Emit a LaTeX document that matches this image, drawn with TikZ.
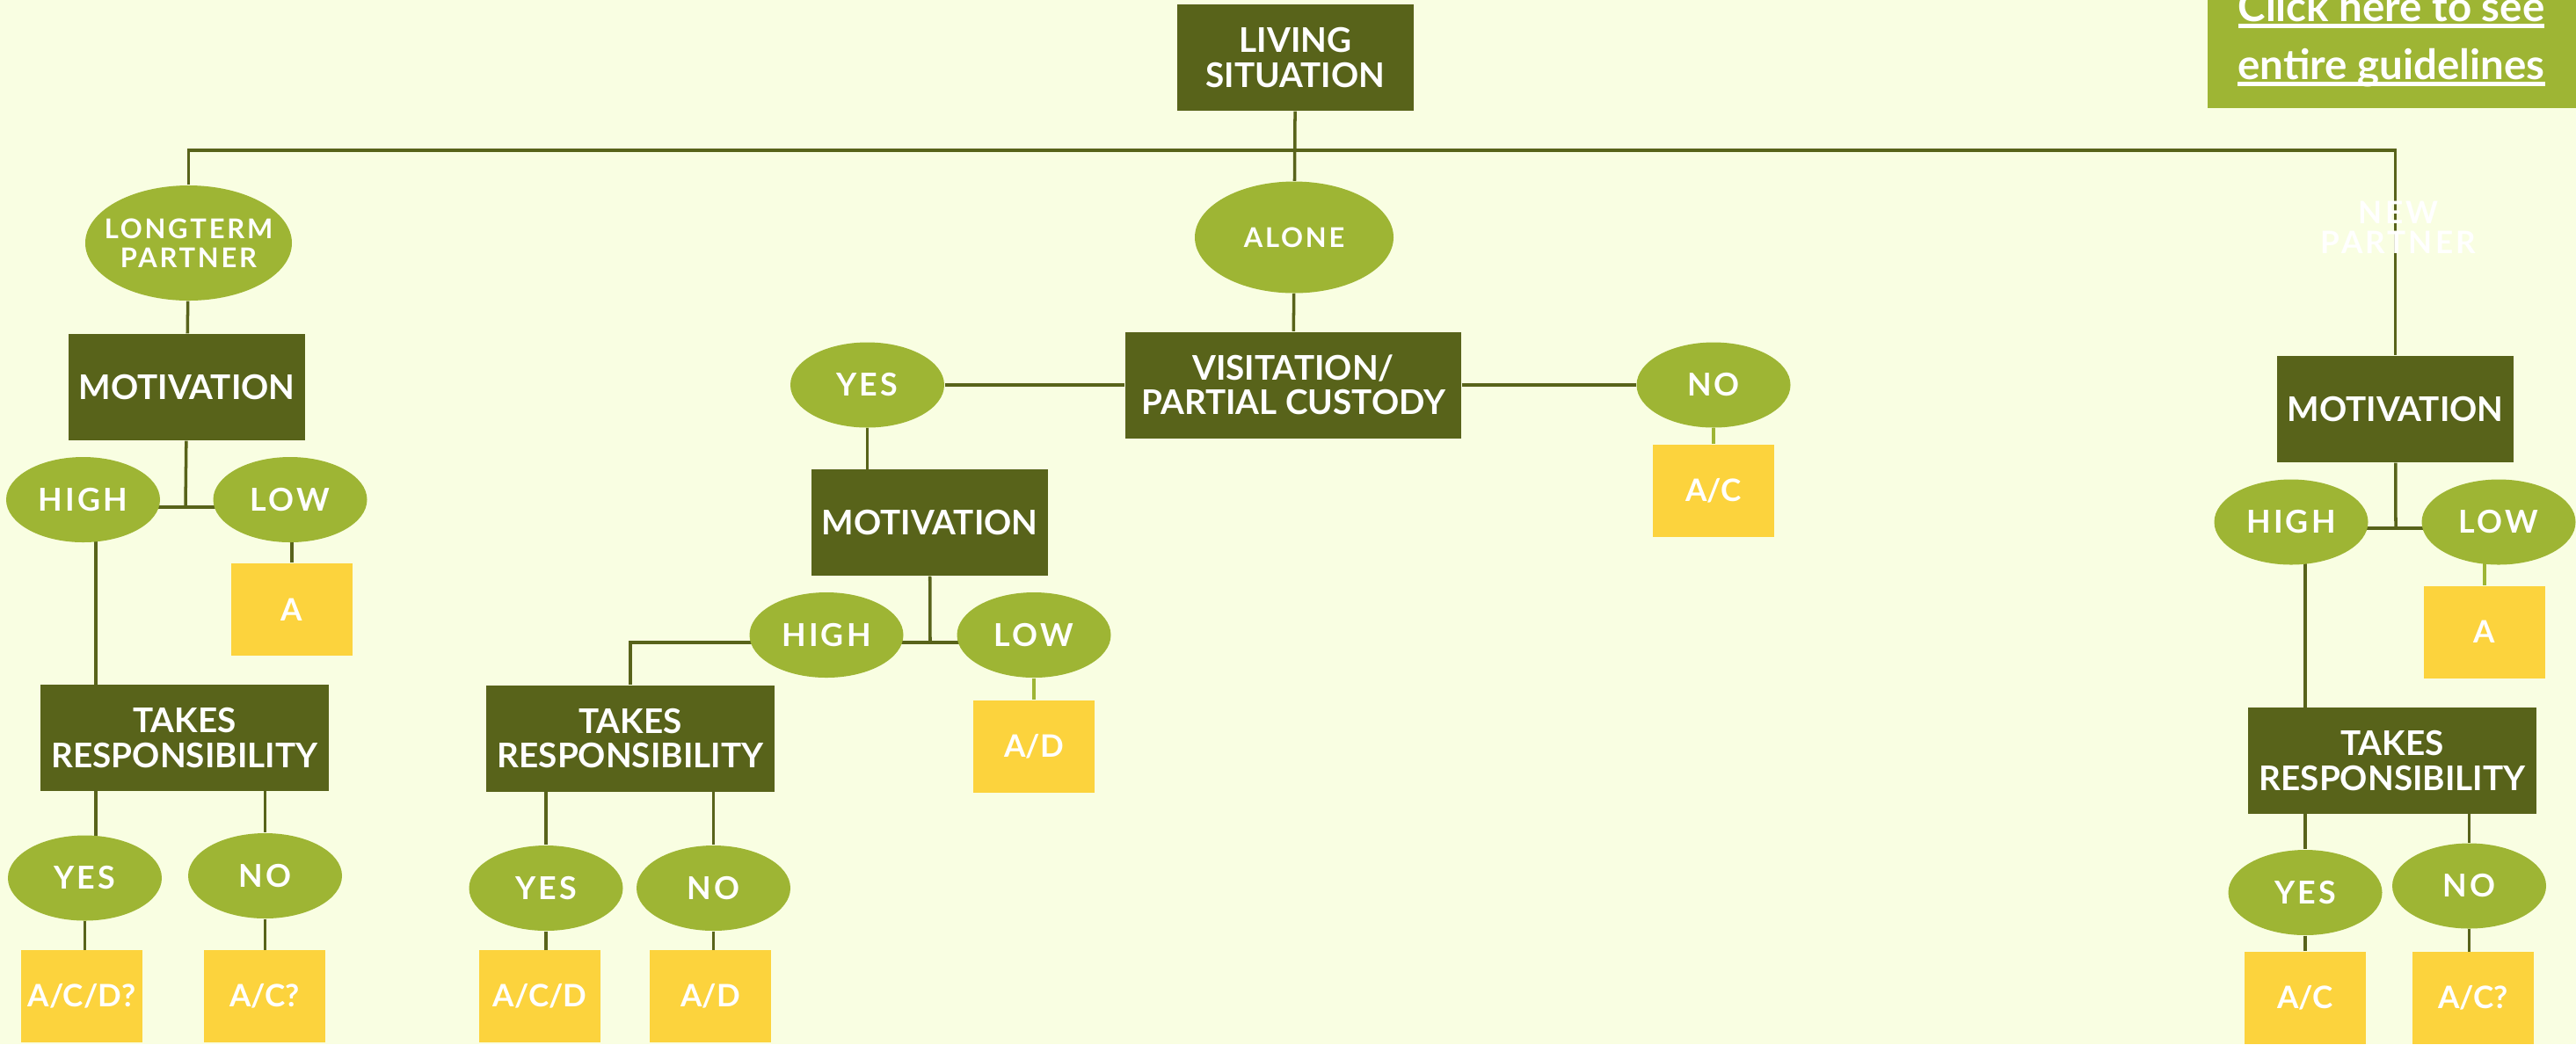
\documentclass[tikz,border=0pt]{standalone}
\usepackage{fontspec}
\setmainfont{Lato}
\newfontfamily\trackfont{Lato}[LetterSpace=9]
\usetikzlibrary{shapes.geometric, positioning, backgrounds}

\definecolor{pagebg}{RGB}{249,254,226}
\definecolor{boxgreen}{RGB}{88,99,26}
\definecolor{ovalgreen}{RGB}{158,181,52}
\definecolor{resyellow}{RGB}{252,211,61}

\newsavebox\linkbox
\newcommand\linkline[1]{\sbox\linkbox{#1}\rlap{\rule[-0.08cm]{\wd\linkbox}{0.05cm}}\usebox\linkbox}

\tikzset{
  question/.style={fill=boxgreen, text=white, inner sep=0pt, minimum width=2.69cm, minimum height=1.21cm, align=center, font=\bfseries\fontsize{11}{11.2}\selectfont},
  answer/.style={ellipse, fill=ovalgreen, text=white, inner sep=0pt, minimum width=1.75cm, minimum height=0.97cm, align=center, font=\trackfont\bfseries\fontsize{10.2}{10}\selectfont},
  result/.style={fill=resyellow, text=white, inner sep=0pt, minimum width=1.38cm, minimum height=1.05cm, font=\bfseries\fontsize{10}{10}\selectfont},
  link/.style={draw=boxgreen, line width=1pt},
  lightlink/.style={draw=ovalgreen, line width=1pt}
}

\begin{document}
\begin{tikzpicture}
\useasboundingbox (0,0) rectangle (29.30,-11.88);
\begin{scope}[on background layer]
\fill[pagebg] (0,0) rectangle (29.30,-11.88);
\end{scope}

% Guidelines button (top right)
\fill[ovalgreen] (25.11,0.3) rectangle (29.50,-1.23);
\node[anchor=base, text=white, font=\bfseries\fontsize{13.5}{13.5}\selectfont] (click1) at (27.20,-0.24) {\linkline{Click here to see}};
\node[anchor=base, text=white, font=\bfseries\fontsize{13.5}{13.5}\selectfont] (click2) at (27.20,-0.90) {\linkline{entire guidelines}};

% Root
\node[question] (live) at (14.735,-0.655) {LIVING\\SITUATION};
\coordinate (bus) at (14.73,-1.71);

\node[answer, minimum width=2.35cm, minimum height=1.31cm, inner xsep=-0.2cm, font=\trackfont\bfseries\fontsize{8.8}{9.4}\selectfont] (longterm) at (2.145,-2.765) {LONGTERM\\PARTNER};
\node[answer, minimum width=2.26cm, minimum height=1.27cm, font=\trackfont\bfseries\fontsize{8.8}{9.4}\selectfont] (alone) at (14.72,-2.70) {ALONE};
\node[text=white, align=center, font=\trackfont\bfseries\fontsize{10}{9.8}\selectfont] (newp) at (27.28,-2.59) {NEW\\PARTNER};

% Left branch: longterm partner
\node[question] (motL) at (2.125,-4.405) {MOTIVATION};
\node[answer] (highL) at (0.945,-5.685) {HIGH};
\node[answer] (lowL) at (3.30,-5.685) {LOW};
\coordinate (jL) at (2.11,-5.77);
\node[result] (aL) at (3.32,-6.935) {A};
\node[question, minimum width=3.28cm] (takesL) at (2.10,-8.395) {TAKES\\RESPONSIBILITY};
\node[answer] (yesL) at (0.965,-9.99) {YES};
\node[answer] (noL) at (3.015,-9.965) {NO};
\node[result] (acdqL) at (0.93,-11.335) {A/C/D?};
\node[result] (acqL) at (3.01,-11.335) {A/C?};

% Middle branch: alone
\node[question, minimum width=3.82cm] (vis) at (14.71,-4.38) {VISITATION/\\PARTIAL CUSTODY};
\node[answer] (yesM) at (9.865,-4.38) {YES};
\node[answer] (noM) at (19.49,-4.38) {NO};
\node[result] (acM) at (19.49,-5.585) {A/C};
\node[question] (motM) at (10.575,-5.945) {MOTIVATION};
\node[answer] (highM) at (9.40,-7.225) {HIGH};
\node[answer] (lowM) at (11.76,-7.225) {LOW};
\coordinate (jM) at (10.58,-7.31);
\node[result] (adM) at (11.76,-8.49) {A/D};
\node[question, minimum width=3.28cm] (takesM) at (7.17,-8.40) {TAKES\\RESPONSIBILITY};
\node[answer] (yesM2) at (6.21,-10.105) {YES};
\node[answer] (noM2) at (8.115,-10.105) {NO};
\node[result] (acdM) at (6.14,-11.335) {A/C/D};
\node[result] (adM2) at (8.08,-11.335) {A/D};

% Right branch: new partner
\node[question] (motR) at (27.245,-4.655) {MOTIVATION};
\node[answer] (highR) at (26.06,-5.94) {HIGH};
\node[answer] (lowR) at (28.42,-5.94) {LOW};
\coordinate (jR) at (27.25,-6.01);
\node[result] (aR) at (28.26,-7.19) {A};
\node[question, minimum width=3.28cm] (takesR) at (27.21,-8.655) {TAKES\\RESPONSIBILITY};
\node[answer] (yesR) at (26.22,-10.155) {YES};
\node[answer] (noR) at (28.085,-10.08) {NO};
\node[result] (acR) at (26.22,-11.355) {A/C};
\node[result] (acqR) at (28.13,-11.355) {A/C?};

% Connectors
\begin{scope}[on background layer]
\draw[link] (live) -- (alone);
\draw[link] (longterm) |- (bus) -| (motR);

\draw[link] (longterm) -- (motL);
\draw[link] (motL) -- (jL);
\draw[link] (highL |- jL) -- (lowL |- jL);
\draw[link] (aL |- lowL) -- (aL);
\draw[link] ([xshift=0.145cm]highL.center) -- ([xshift=0.145cm]highL.center |- yesL);
\draw[link] (yesL) -- (yesL |- acdqL);
\draw[link] (noL |- takesL) -- (noL) -- (noL |- acqL);

\draw[link] (alone) -- (vis);
\draw[link] (yesM) -- (vis) -- (noM);
\draw[lightlink] (noM) -- (acM);
\draw[link] (yesM) -- (yesM |- motM);
\draw[link] (motM) -- (jM);
\draw[link] (takesM) |- (lowM |- jM);
\draw[lightlink] (lowM) -- (adM);
\draw[link] (yesM2 |- takesM) -- (yesM2) -- (yesM2 |- acdM);
\draw[link] (noM2 |- takesM) -- (noM2) -- (noM2 |- adM2);

\draw[link] (motR) -- (jR);
\draw[link] (highR |- jR) -- (lowR |- jR);
\draw[lightlink] (aR |- lowR) -- (aR);
\draw[link] (yesR |- highR) -- (yesR |- takesR);
\draw[link] (yesR |- takesR) -- (yesR) -- (acR);
\draw[link] (noR |- takesR) -- (noR) -- (noR |- acqR);
\end{scope}

\end{tikzpicture}
\end{document}
